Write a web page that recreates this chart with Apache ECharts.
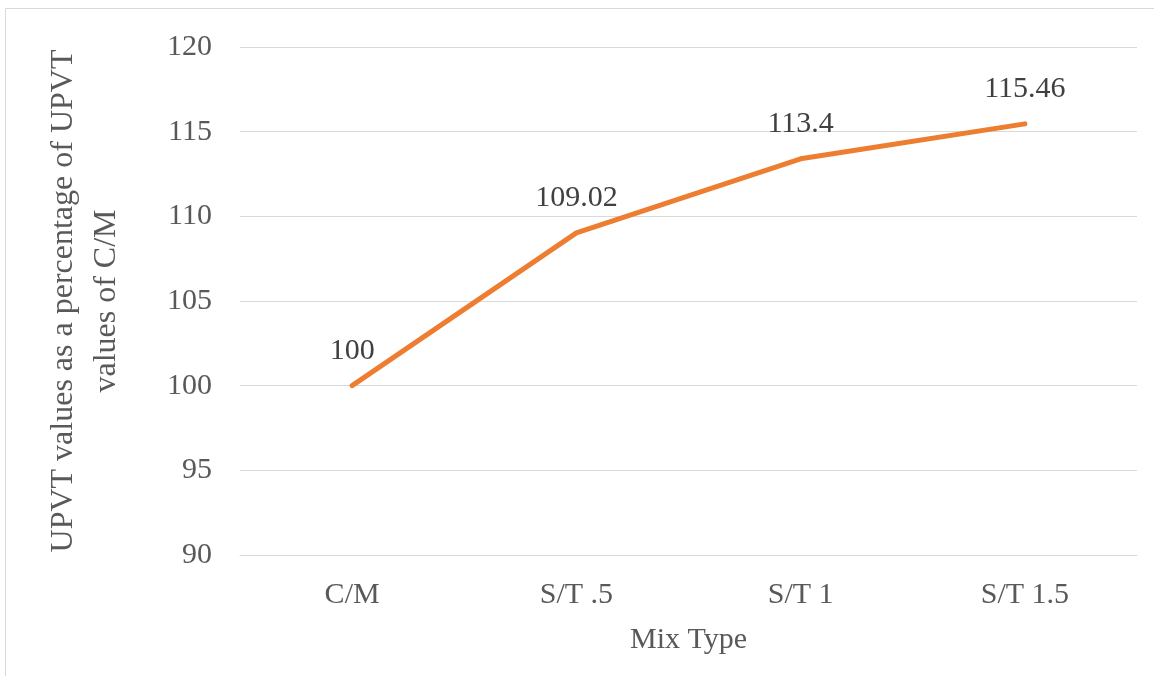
<!DOCTYPE html>
<html>
<head>
<meta charset="utf-8">
<script src="https://cdn.jsdelivr.net/npm/echarts@6/dist/echarts.min.js"></script>
<style>
  html, body { margin: 0; padding: 0; background: #fff; }
  #chart { width: 1154px; height: 676px; }
</style>
</head>
<body>
<div id="chart"></div>
<script>
// Mix types along the x axis and their UPVT as a percentage of C/M
const mixTypes = ['C/M', 'S/T .5', 'S/T 1', 'S/T 1.5'];
const upvtPercent = [100, 109.02, 113.4, 115.46];
const yTicks = { min: 90, max: 120, step: 5 };

const TEXT = '#595959';
const LABEL_TEXT = '#404040';
const FONT = 'Liberation Serif';

const chart = echarts.init(document.getElementById('chart'), null, { renderer: 'canvas' });
chart.setOption({
  backgroundColor: '#ffffff',
  animation: false,
  textStyle: { fontFamily: FONT, color: TEXT },
  graphic: [{
    type: 'rect',
    shape: { x: 5.5, y: 8.5, width: 1200, height: 700 },
    style: { fill: 'none', stroke: '#d9d9d9', lineWidth: 1 },
    silent: true
  }],
  grid: { left: 240, right: 17, top: 47, bottom: 121 },
  xAxis: {
    type: 'category',
    data: mixTypes,
    boundaryGap: true,
    name: 'Mix Type',
    nameLocation: 'middle',
    nameGap: 70,
    nameTextStyle: { fontFamily: FONT, fontSize: 30, color: TEXT },
    axisLine: { show: true, lineStyle: { color: '#d9d9d9', width: 1 } },
    axisTick: { show: false },
    axisLabel: { fontFamily: FONT, fontSize: 30, color: TEXT, margin: 25 },
    splitLine: { show: false }
  },
  yAxis: {
    type: 'value',
    min: yTicks.min,
    max: yTicks.max,
    interval: yTicks.step,
    name: 'UPVT values as a percentage of UPVT\nvalues of C/M',
    nameLocation: 'middle',
    nameGap: 112,
    nameRotate: 90,
    nameTextStyle: { fontFamily: FONT, fontSize: 32, color: TEXT, lineHeight: 43, align: 'center' },
    axisLine: { show: false },
    axisTick: { show: false },
    axisLabel: { fontFamily: FONT, fontSize: 30, color: TEXT, margin: 28 },
    splitLine: { show: true, lineStyle: { color: '#d9d9d9', width: 1 } }
  },
  series: [{
    type: 'line',
    data: upvtPercent,
    symbol: 'circle',
    symbolSize: 0,
    showSymbol: true,
    lineStyle: { color: '#ED7D31', width: 5, cap: 'round', join: 'round' },
    itemStyle: { color: '#ED7D31' },
    label: {
      show: true,
      position: 'top',
      distance: 20,
      fontFamily: FONT,
      fontSize: 30,
      color: LABEL_TEXT,
      formatter: p => String(p.value)
    }
  }]
});
</script>
</body>
</html>
